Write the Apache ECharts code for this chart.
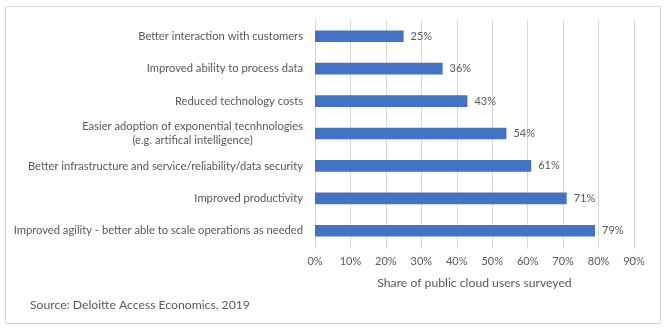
<!DOCTYPE html>
<html>
<head>
<meta charset="utf-8">
<script src="https://cdn.jsdelivr.net/npm/echarts@6/dist/echarts.min.js"></script>
<style>
  html, body { margin: 0; padding: 0; background: #fff; }
  #chart { width: 665px; height: 329px; }
</style>
</head>
<body>
<div id="chart"></div>
<script>
// Benefits of public cloud, listed top to bottom
const categories = [
  'Better interaction with customers',
  'Improved ability to process data',
  'Reduced technology costs',
  'Easier adoption of exponential tecnhnologies\n(e.g. artifical intelligence)',
  'Better infrastructure and service/reliability/data security',
  'Improved productivity',
  'Improved agility - better able to scale operations as needed'
];
// Share of respondents (%)
const shares = [25, 36, 43, 54, 61, 71, 79];
const axisTitle = 'Share of public cloud users surveyed';
const sourceNote = 'Source: Deloitte Access Economics, 2019';

const FONT = 'Lato';
const TEXT = '#595959';
const GRID = '#d9d9d9';

const chart = echarts.init(document.getElementById('chart'), null, { renderer: 'canvas' });
chart.setOption({
  animation: false,
  textStyle: { fontFamily: FONT },
  grid: { left: 315, right: 31, top: 20, bottom: 82, containLabel: false },
  xAxis: {
    type: 'value',
    min: 0,
    max: 90,
    interval: 10,
    axisLine: { show: false },
    axisTick: { show: true, length: 2, lineStyle: { color: GRID } },
    splitLine: { show: true, lineStyle: { color: GRID, width: 1 } },
    axisLabel: { formatter: '{value}%', color: TEXT, fontSize: 11, fontFamily: FONT, margin: 9 },
    name: axisTitle,
    nameLocation: 'middle',
    nameGap: 30,
    nameTextStyle: { color: TEXT, fontSize: 12.2, fontFamily: FONT }
  },
  yAxis: {
    type: 'category',
    data: categories,
    inverse: true,
    axisLine: { show: true, lineStyle: { color: GRID } },
    axisTick: { show: false },
    axisLabel: {
      color: TEXT,
      fontSize: 11.2,
      fontFamily: FONT,
      margin: 12,
      lineHeight: 13.5,
      formatter: function (v) {
        return v.split('\n').map(function (s) { return '{c|' + s + '}'; }).join('\n');
      },
      rich: { c: { align: 'center', color: TEXT, fontSize: 11.2, fontFamily: FONT, lineHeight: 13.5 } }
    }
  },
  series: [{
    type: 'bar',
    data: shares,
    barCategoryGap: '64%',
    itemStyle: { color: '#4472c4' },
    label: {
      show: true,
      position: 'right',
      distance: 7,
      formatter: '{c}%',
      color: TEXT,
      fontSize: 11,
      fontFamily: FONT
    }
  }],
  graphic: [
    {
      type: 'rect',
      shape: { x: 5.5, y: 6.5, width: 655, height: 317 },
      style: { fill: 'none', stroke: '#d9d9d9', lineWidth: 1 },
      silent: true
    },
    {
      type: 'text',
      left: 30,
      top: 299,
      style: { text: sourceNote, fill: TEXT, font: '12.2px ' + FONT }
    }
  ]
});
</script>
</body>
</html>
